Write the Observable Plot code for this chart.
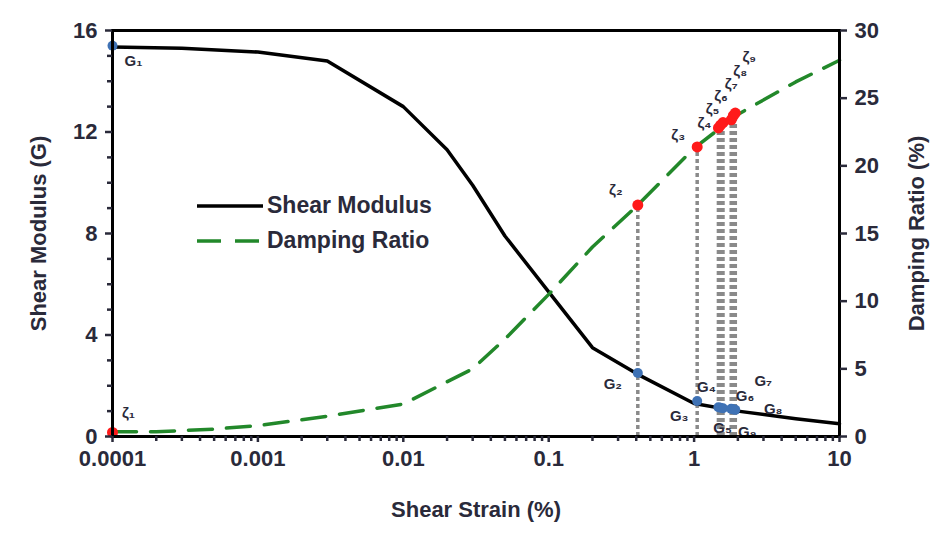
<!DOCTYPE html>
<html>
<head>
<meta charset="utf-8">
<script src="https://cdn.jsdelivr.net/npm/d3@7"></script>
<script src="https://cdn.jsdelivr.net/npm/@observablehq/plot@0.6"></script>
<style>
  html, body { margin: 0; padding: 0; background: #fff; }
  #wrap { position: relative; width: 945px; height: 555px; }
  #legend { position: absolute; left: 197px; top: 188px; font-family: "Liberation Sans", Arial, sans-serif;
            font-size: 23px; font-weight: bold; color: #2a2a3a; }
  #legend .row { display: flex; align-items: center; height: 35px; }
  #legend svg { margin-right: 4px; }
</style>
</head>
<body>
<div id="wrap">
  <div id="legend">
    <div class="row"><svg width="66" height="10"><line x1="0" y1="5" x2="66" y2="5" stroke="#000" stroke-width="3.5"/></svg>Shear Modulus</div>
    <div class="row"><svg width="66" height="10"><line x1="0" y1="5" x2="66" y2="5" stroke="#22882a" stroke-width="3.5" stroke-dasharray="24,14"/></svg>Damping Ratio</div>
  </div>
</div>
<script>
// Shear modulus degradation curve: strain (%) and G
const modStrain = [0.0001, 0.0003, 0.001, 0.003, 0.01, 0.02, 0.03, 0.05, 0.1, 0.2, 0.41, 1.0, 2.0, 5.0, 10];
const modG      = [15.35, 15.3, 15.15, 14.8, 13.0, 11.3, 9.9, 7.9, 5.7, 3.5, 2.45, 1.3, 1.0, 0.7, 0.5];

// Damping ratio curve: strain (%) and damping (%)
const dampStrain = [0.0001, 0.0002, 0.0005, 0.001, 0.003, 0.01, 0.03, 0.05, 0.1, 0.2, 0.41, 1.0, 2.0, 5.0, 10];
const dampRatio  = [0.35, 0.35, 0.55, 0.8, 1.5, 2.4, 5.0, 7.2, 10.5, 14.0, 17.1, 21.3, 23.8, 26.2, 27.8];

// Measured test points
const ptStrain = [0.0001, 0.41, 1.05, 1.47, 1.52, 1.58, 1.8, 1.86, 1.92];
const ptG      = [15.4, 2.5, 1.4, 1.15, 1.13, 1.11, 1.09, 1.07, 1.05];
const ptZeta   = [0.3, 17.1, 21.4, 22.8, 23.0, 23.2, 23.4, 23.7, 23.9];
const ptIndex  = ["₁", "₂", "₃", "₄", "₅", "₆", "₇", "₈", "₉"];

// Axis ticks
const xTicks = [0.0001, 0.001, 0.01, 0.1, 1, 10];
const xTickLabels = ["0.0001", "0.001", "0.01", "0.1", "1", "10"];
const gTicks = [0, 4, 8, 12, 16];
const dTicks = [0, 5, 10, 15, 20, 25, 30];

// label placement around each point (px)
const gOffsets = [[21, 15], [-25, 11], [-18, 15], [-12, -20], [2, 20], [22, -12], [32, -28], [40, 0], [12, 22]];
const zOffsets = [[16, -19], [-22, -15], [-19, -12], [-14, -5], [-8, -16], [-2, -26], [0, -36], [7, -45], [14, -56]];

const G_MAX = 16, D_MAX = 30;
const toG = d => d * G_MAX / D_MAX;   // damping (%) mapped onto the modulus scale

const modData  = modStrain.map((s, i) => ({s, v: modG[i]}));
const dampData = dampStrain.map((s, i) => ({s, v: toG(dampRatio[i])}));
const pts = ptStrain.map((s, i) => ({s, g: ptG[i], z: toG(ptZeta[i]), k: ptIndex[i],
  gdx: gOffsets[i][0], gdy: gOffsets[i][1], zdx: zOffsets[i][0], zdy: zOffsets[i][1]}));

const minorX = [];
for (let e = -4; e < 1; e++) for (let m = 2; m <= 9; m++) minorX.push(m * Math.pow(10, e));
const minorG = d3.range(0, 17).filter(v => v % 4 !== 0);

const txt = "#2a2a3a";
const labelMarks = pts.flatMap(p => [
  Plot.text([p], {x: "s", y: "g", text: d => "G" + d.k, dx: p.gdx, dy: p.gdy, fontSize: 15, fill: txt, fontWeight: "bold"}),
  Plot.text([p], {x: "s", y: "z", text: d => "ζ" + d.k, dx: p.zdx, dy: p.zdy, fontSize: 15, fill: txt, fontWeight: "bold"})
]);

const chart = Plot.plot({
  width: 945,
  height: 555,
  marginLeft: 112,
  marginRight: 106,
  marginTop: 30,
  marginBottom: 119,
  x: {type: "log", domain: [0.0001, 10]},
  y: {domain: [0, G_MAX]},
  style: {fontFamily: "Liberation Sans, Arial, sans-serif", background: "#fff", color: txt, fontWeight: "bold"},
  marks: [
    // vertical guides from damping point down to the strain axis
    Plot.ruleX(pts.slice(1), {x: "s", y1: 0, y2: "z", stroke: "#8a8a8a", strokeWidth: 3.5, strokeDasharray: "4,3"}),
    Plot.line(modData, {x: "s", y: "v", stroke: "#000", strokeWidth: 3.5}),
    Plot.line(dampData, {x: "s", y: "v", stroke: "#22882a", strokeWidth: 3.5, strokeDasharray: "24,14"}),
    Plot.dot(pts, {x: "s", y: "g", r: 5, fill: "#3f72b5"}),
    Plot.dot(pts, {x: "s", y: "z", r: 5.5, fill: "#ff1a1a"}),
    ...labelMarks,
    Plot.frame({stroke: "#000", strokeWidth: 3}),
    // strain axis
    Plot.axisX(minorX, {tickSize: 5, strokeWidth: 2.5, tickFormat: () => "", label: null}),
    Plot.axisX(xTicks, {tickSize: 6, strokeWidth: 2.5, tickPadding: 8, fontSize: 22,
      tickFormat: d => xTickLabels[xTicks.indexOf(d)],
      label: "Shear Strain (%)", labelAnchor: "center", labelArrow: "none", labelOffset: 80}),
    // modulus axis
    Plot.axisY(minorG, {tickSize: 5, strokeWidth: 2.5, tickFormat: () => "", label: null}),
    Plot.axisY(gTicks, {tickSize: 7, strokeWidth: 2.5, tickPadding: 8, fontSize: 22,
      label: "Shear Modulus (G)", labelAnchor: "center", labelArrow: "none", labelOffset: 82}),
    // damping axis
    Plot.axisY(dTicks.map(toG), {anchor: "right", tickSize: 7, strokeWidth: 2.5, tickPadding: 8, fontSize: 22,
      tickFormat: d => String(Math.round(d * D_MAX / G_MAX)),
      label: "Damping Ratio (%)", labelAnchor: "center", labelArrow: "none", labelOffset: 84})
  ]
});

document.getElementById("wrap").prepend(chart);
</script>
</body>
</html>
